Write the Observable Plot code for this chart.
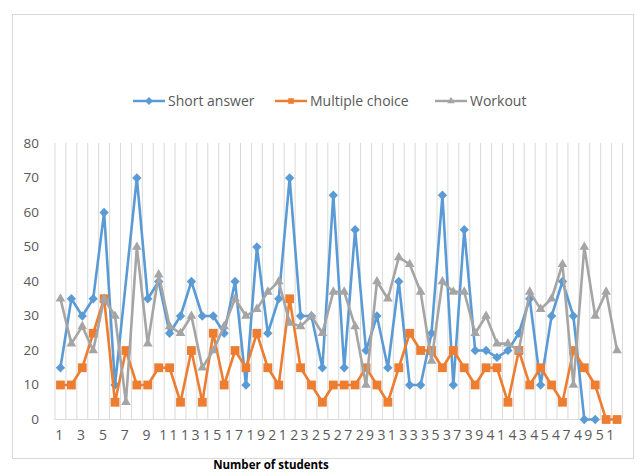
<!DOCTYPE html>
<html>
<head>
<meta charset="utf-8">
<script src="https://cdn.jsdelivr.net/npm/d3@7"></script>
<script src="https://cdn.jsdelivr.net/npm/@observablehq/plot@0.6"></script>
<style>
  body { margin: 0; background: #fff; }
  #wrap { position: relative; width: 635px; height: 476px; overflow: hidden; font-family: "Open Sans", Lato, sans-serif; color: #595959; }
  #frame { position: absolute; left: 12px; top: 14px; width: 622px; height: 445px; border: 1px solid #d9d9d9; box-sizing: border-box; }
  #legend { position: absolute; top: 91px; left: 0; width: 635px; height: 20px; }
  .item { position: absolute; top: 0; display: flex; align-items: center; font-size: 14px; white-space: nowrap; }
  .item svg { margin-right: 3px; }
  #chart { position: absolute; left: 0; top: 130px; }
  #chart svg [aria-label^="x-axis"] text { letter-spacing: 2.4px; font-size: 14px; }
  #xtitle { position: absolute; top: 457px; left: 0; width: 542px; text-align: center; font-weight: bold; font-size: 11.5px; color: #000; font-family: "Open Sans", sans-serif; }
</style>
</head>
<body>
<div id="wrap">
  <div id="frame"></div>
  <div id="legend"></div>
  <div id="chart"></div>
  <div id="xtitle">Number of students</div>
</div>
<script>
// Data; null = no point
const students = d3.range(1, 53);
const shortAnswer = [15,35,30,35,60,10,null,70,35,40,25,30,40,30,30,25,40,10,50,25,35,70,30,30,15,65,15,55,20,30,15,40,10,10,25,65,10,55,20,20,18,20,25,35,10,30,40,30,0,0,null,null];
const multipleChoice = [10,10,15,25,35,5,20,10,10,15,15,5,20,5,25,10,20,15,25,15,10,35,15,10,5,10,10,10,15,10,5,15,25,20,20,15,20,15,10,15,15,5,20,10,15,10,5,20,15,10,0,0];
const workout = [35,22,27,20,35,30,5,50,22,42,27,25,30,15,20,27,35,30,32,37,40,28,27,30,25,37,37,27,10,40,35,47,45,37,17,40,37,37,25,30,22,22,20,37,32,35,45,10,50,30,37,20];
const xTicks = d3.range(1, 53, 2);
const yTicks = d3.range(0, 81, 10);

const series = [
  {name: "Short answer", values: shortAnswer, color: "#5B9BD5", symbol: "diamond2", r: 4.2},
  {name: "Multiple choice", values: multipleChoice, color: "#ED7D31", symbol: "square2", r: 5.6},
  {name: "Workout", values: workout, color: "#A5A5A5", symbol: "triangle2", r: 4.6}
];

const boundaries = d3.range(0, students.length + 1).map(d => d + 0.5);

const marks = [
  Plot.ruleX(boundaries, {y1: 0, y2: 80, stroke: "#d9d9d9", strokeWidth: 1}),
  Plot.ruleY([0], {stroke: "#d9d9d9", strokeWidth: 1})
];
for (const s of series) {
  const rows = students.map((st, i) => ({student: st, value: s.values[i]})).filter(d => d.value != null);
  marks.push(Plot.line(rows, {x: "student", y: "value", stroke: s.color, strokeWidth: 2.6}));
  marks.push(Plot.dot(rows, {x: "student", y: "value", symbol: s.symbol, fill: s.color, stroke: "none", r: s.r}));
}

const chart = Plot.plot({
  width: 635,
  height: 330,
  marginTop: 13,
  marginBottom: 41,
  marginLeft: 54.5,
  marginRight: 13,
  style: {fontSize: "13.5px", fontFamily: "'Open Sans', sans-serif", color: "#595959", background: "transparent"},
  x: {type: "linear", domain: [0.5, students.length + 0.5], ticks: xTicks, tickSize: 0, tickPadding: 11, tickFormat: d => String(d), label: null},
  y: {domain: [0, 80], ticks: yTicks, tickSize: 0, tickPadding: 16, label: null},
  marks
});
document.getElementById("chart").appendChild(chart);

// Legend
const legend = document.getElementById("legend");
const lefts = [133, 275, 435];
series.forEach((s, i) => {
  const item = document.createElement("div");
  item.className = "item";
  item.style.left = lefts[i] + "px";
  const svg = d3.create("svg").attr("width", 32).attr("height", 14);
  svg.append("line").attr("x1", 0).attr("x2", 32).attr("y1", 7).attr("y2", 7).attr("stroke", s.color).attr("stroke-width", 2.5);
  const sym = {diamond2: d3.symbolDiamond2, square2: d3.symbolSquare2, triangle2: d3.symbolTriangle2}[s.symbol];
  svg.append("path").attr("transform", "translate(16,7)").attr("d", d3.symbol(sym, 40)()).attr("fill", s.color);
  item.appendChild(svg.node());
  const t = document.createElement("span");
  t.textContent = s.name;
  item.appendChild(t);
  legend.appendChild(item);
});
</script>
</body>
</html>
